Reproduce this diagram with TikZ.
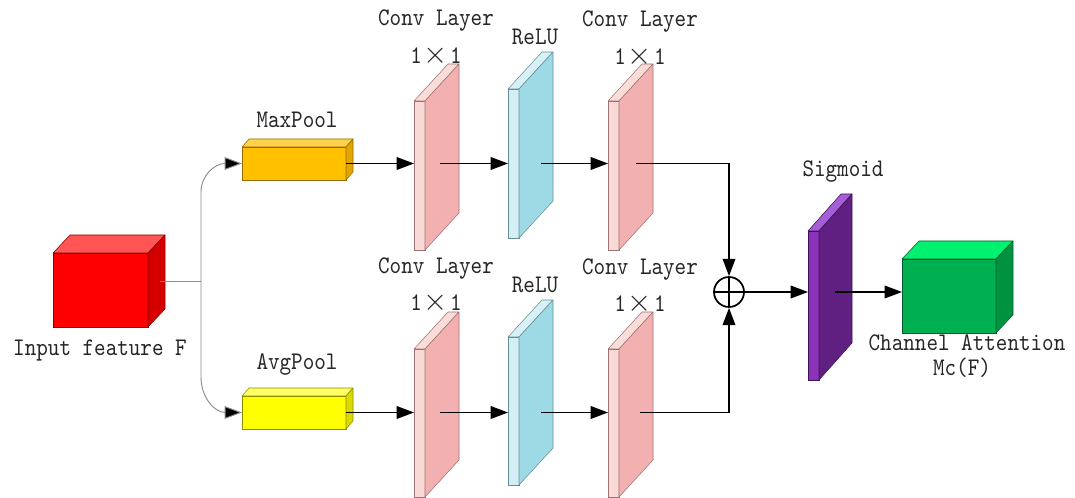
\documentclass[tikz,border=0pt]{standalone}
\usepackage{fontspec}
\newfontfamily\lblfont[FakeStretch=0.87]{lmmono10-regular.otf}
\usetikzlibrary{arrows.meta}
\definecolor{redF}{HTML}{FF0000}
\definecolor{redT}{HTML}{FF5555}
\definecolor{redS}{HTML}{D40000}
\definecolor{maxF}{HTML}{FFC000}
\definecolor{maxT}{HTML}{FFD24A}
\definecolor{maxS}{HTML}{E3A500}
\definecolor{avgF}{HTML}{FFFF00}
\definecolor{avgT}{HTML}{FFFF66}
\definecolor{avgS}{HTML}{DADA00}
\definecolor{convF}{HTML}{F9D9D6}
\definecolor{convT}{HTML}{FADCD9}
\definecolor{convS}{HTML}{F3B0B0}
\definecolor{reluF}{HTML}{D3EEF5}
\definecolor{reluT}{HTML}{D8F1F6}
\definecolor{reluS}{HTML}{9DDAE6}
\definecolor{sigF}{HTML}{8B33B9}
\definecolor{sigT}{HTML}{A65ED8}
\definecolor{sigS}{HTML}{5F2082}
\definecolor{grnF}{HTML}{00B050}
\definecolor{grnT}{HTML}{00F070}
\definecolor{grnS}{HTML}{00923F}
% #1 name, #2 x, #3 y (top-left of front face), #4 w, #5 h, #6 dx, #7 dy, #8 colour prefix
\newcommand\mycub[8]{%
  \node[facebox, fill=#8F, draw=#8S!65!black, minimum width={#4*0.75pt}, minimum height={#5*0.75pt}] (#1) at (#2,#3) {};
  \filldraw[fill=#8T, draw=#8S!65!black, line join=round] (#1.north west) -- ++(#6,#7) -- ++(#4,0) -- (#1.north east) -- cycle;
  \filldraw[fill=#8S, draw=#8S!65!black, line join=round] (#1.north east) -- ++(#6,#7) -- ++(0,#5) -- (#1.south east) -- cycle;
}
\newcommand\onebyone{1\hspace{1.5pt}\scalebox{1.35}{$\times$}\hspace{1.5pt}1}
\begin{document}
\begin{tikzpicture}[x=0.75pt,y=-0.75pt,
  facebox/.style={rectangle, inner sep=0pt, outer sep=0pt, anchor=north west, line width=0.5pt},
  lbl/.style={font=\fontsize{19}{20}\selectfont\lblfont, text=black!85, inner sep=0pt},
  arr/.style={line width=1.1pt, -{Triangle[length=13pt,width=9.5pt]}},
  thinarr/.style={draw=black!45, line width=0.7pt, -{Triangle[length=13pt,width=9.5pt,fill=black]}}]
\useasboundingbox (0,0) rectangle (1075,498);
% input cube
\mycub{inp}{53}{253}{95}{74}{17}{-18}{red}
\node[lbl] (inplbl) at (100,350) {Input feature F};
% pools
\mycub{maxp}{242}{147}{104}{33}{7}{-8}{max}
\node[lbl] (maxlbl) at (297,120) {MaxPool};
\mycub{avgp}{242}{396}{104}{33}{7}{-8}{avg}
\node[lbl] (avglbl) at (297,365) {AvgPool};
% top slabs
\mycub{c1t}{414}{101}{11}{149}{34}{-37}{conv}
\mycub{r1t}{508}{89}{11}{149}{34}{-37}{relu}
\mycub{c2t}{608}{101}{11}{149}{34}{-37}{conv}
% bottom slabs
\mycub{c1b}{414}{349}{11}{148}{34}{-37}{conv}
\mycub{r1b}{508}{337}{11}{148}{34}{-37}{relu}
\mycub{c2b}{608}{349}{11}{148}{34}{-37}{conv}
% sigmoid
\mycub{sig}{808}{231}{11}{149}{33}{-37}{sig}
\node[lbl] (siglbl) at (843,172) {Sigmoid};
% output cube
\mycub{outc}{902}{259}{94}{74}{17}{-18}{grn}
\node[lbl] (outlbl1) at (967,343) {Channel Attention};
\node[lbl] (outlbl2) at (962,368) {Mc(F)};
% labels of layers
\node[lbl] (c1tl1) at (436,21) {Conv Layer};
\node[lbl] (c1tl2) at (436,56) {\onebyone};
\node[lbl] (r1tl) at (535,37) {ReLU};
\node[lbl] (c2tl1) at (640,22) {Conv Layer};
\node[lbl] (c2tl2) at (640,57) {\onebyone};
\node[lbl] (c1bl1) at (436,269) {Conv Layer};
\node[lbl] (c1bl2) at (436,303) {\onebyone};
\node[lbl] (r1bl) at (535,285) {ReLU};
\node[lbl] (c2bl1) at (640,270) {Conv Layer};
\node[lbl] (c2bl2) at (640,304) {\onebyone};
% adder
\node[circle, draw, line width=1.3pt, minimum size={30*0.75pt}, inner sep=0pt] (add) at (729,292) {};
\draw[line width=1.3pt] (add.north) -- (add.south) (add.west) -- (add.east);
% coordinates
\coordinate (inpo) at (160,281);
\coordinate (split) at (201,281);
\coordinate (c1to) at (440,163.5);
\coordinate (r1to) at (541,163.5);
\coordinate (c2to) at (636,163.5);
\coordinate (c1bo) at (440,412.5);
\coordinate (r1bo) at (541,412.5);
\coordinate (c2bo) at (640,412.5);
\coordinate (sigo) at (835,292);
% input split
\draw[draw=black!45, line width=0.7pt] (inpo) -- (split);
\draw[thinarr] (split) -- (201,192) .. controls (201,175) and (215,163.5) .. (maxp.west);
\draw[thinarr] (split) -- (201,377) .. controls (201,398) and (215,412.5) .. (avgp.west);
% top branch
\draw[arr] (maxp.east) -- (maxp.east -| c1t.west);
\draw[arr] (c1to) -- (c1to -| r1t.west);
\draw[arr] (r1to) -- (r1to -| c2t.west);
\draw[arr] (c2to) -| (add.north);
% bottom branch
\draw[arr] (avgp.east) -- (avgp.east -| c1b.west);
\draw[arr] (c1bo) -- (c1bo -| r1b.west);
\draw[arr] (r1bo) -- (r1bo -| c2b.west);
\draw[arr] (c2bo) -| (add.south);
% to sigmoid and output
\draw[arr] (add.east) -- (add.east -| sig.west);
\draw[arr] (sigo) -- (sigo -| outc.west);
\end{tikzpicture}
\end{document}
